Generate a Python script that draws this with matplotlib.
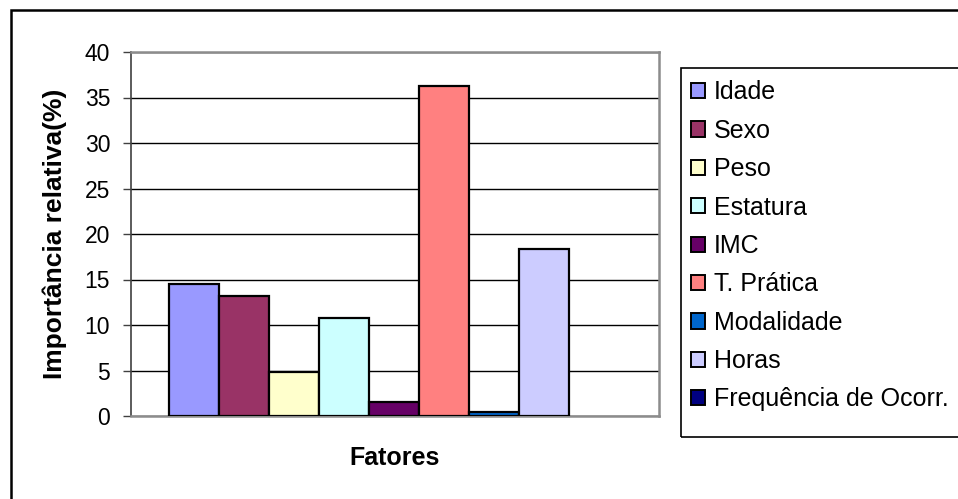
import matplotlib
matplotlib.use("Agg")
import matplotlib.pyplot as plt
from matplotlib.patches import Patch, Rectangle

plt.rcParams['font.family'] = ['Liberation Sans', 'DejaVu Sans']

fatores = ['Idade', 'Sexo', 'Peso', 'Estatura', 'IMC', 'T. Prática',
           'Modalidade', 'Horas', 'Frequência de Ocorr.']
importancia = [14.5, 13.2, 4.8, 10.8, 1.5, 36.3, 0.4, 18.3, 0.0]
cores = ['#9999FF', '#993366', '#FFFFCC', '#CCFFFF', '#660066', '#FF8080',
         '#0066CC', '#CCCCFF', '#000080']
yticks = [0, 5, 10, 15, 20, 25, 30, 35, 40]

W, H = 958, 499
fig = plt.figure(figsize=(W / 100, H / 100), dpi=100)

def px(x0, y0, x1, y1):
    # pixel box (top-left origin) -> figure fraction rect
    return [x0 / W, 1 - y1 / H, (x1 - x0) / W, (y1 - y0) / H]

ax = fig.add_axes(px(131, 52, 659, 416))

for i, (v, c) in enumerate(zip(importancia, cores)):
    ax.bar(i, v, width=1.0, color=c, edgecolor='black',
           linewidth=1.6 if v > 0 else 0, zorder=3)

ax.set_xlim(-1.26, 9.3)
ax.set_ylim(0, 40)
ax.set_yticks(yticks)
ax.set_xticks([])
ax.yaxis.grid(True, color='black', linewidth=1.0, zorder=0)

for s in ['top', 'right', 'bottom']:
    ax.spines[s].set_color('#8c8c8c')
    ax.spines[s].set_linewidth(1.8)
ax.spines['left'].set_color('#404040')
ax.spines['left'].set_linewidth(1.2)
ax.tick_params(axis='y', direction='out', length=6, width=1.0,
               color='#404040', pad=9, labelsize=16.5)

ax.set_ylabel('Importância relativa(%)', fontsize=19, fontweight='bold')
ax.yaxis.set_label_coords((55 - 131) / 528, 0.5)
ax.yaxis.label.set_va('center')
ax.set_xlabel('Fatores', fontsize=18, fontweight='bold')
ax.xaxis.set_label_coords(0.5, -42 / 364)
ax.xaxis.label.set_va('center')

# outer chart frame and legend box
fr = px(11, 10, 1000, 520)
fig.patches.append(Rectangle((fr[0], fr[1]), fr[2], fr[3],
                             transform=fig.transFigure, fill=False,
                             edgecolor='black', linewidth=1.8))
lb = px(681, 68, 1000, 437)
fig.patches.append(Rectangle((lb[0], lb[1]), lb[2], lb[3],
                             transform=fig.transFigure, fill=False,
                             edgecolor='black', linewidth=1.2))

handles = [Patch(facecolor=c, edgecolor='black', linewidth=1.4) for c in cores]
fig.legend(handles, fatores, loc='upper left',
           bbox_to_anchor=(688 / W, 1 - 78 / H), frameon=False,
           fontsize=18, handlelength=0.56, handleheight=0.56,
           handletextpad=0.36, labelspacing=0.575, borderpad=0.1,
           borderaxespad=0)

fig.savefig('out.png', dpi=100)
